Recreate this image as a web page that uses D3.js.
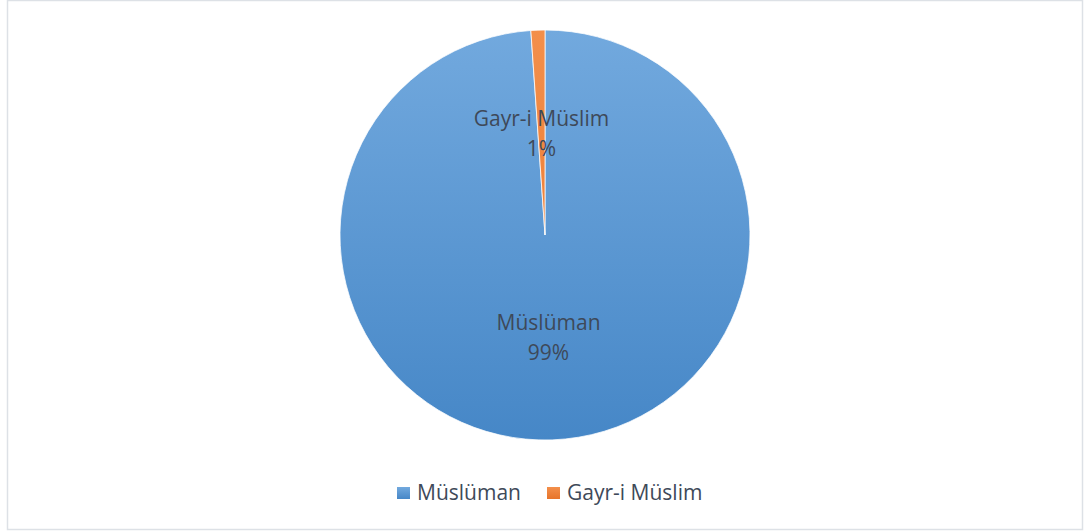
<!DOCTYPE html>
<html><head><meta charset="utf-8">
<script src="https://cdn.jsdelivr.net/npm/d3@7"></script>
<style>body{margin:0;background:#fff;} text{font-family:"Open Sans","Noto Sans",sans-serif;}</style>
</head><body>
<svg id="c" width="1091" height="531"></svg>
<script>
const categories = ["Müslüman", "Gayr-i Müslim"];
const values = [98.9, 1.1];
const pctLabels = ["99%", "1%"];
const colorsTop = ["#72a9de", "#f38f4b"];
const colorsBottom = ["#4687c7", "#e7742a"];

const svg = d3.select("#c");
svg.append("rect").attr("x",7.5).attr("y",0.5).attr("width",1075).attr("height",529)
  .attr("fill","#fff").attr("stroke","#dde1e6").attr("stroke-width",1.5);

const cx = 545, cy = 235, R = 205;
const defs = svg.append("defs");
categories.forEach((c,i)=>{
  const g = defs.append("linearGradient").attr("id","g"+i)
    .attr("gradientUnits","userSpaceOnUse").attr("x1",0).attr("y1",-R).attr("x2",0).attr("y2",R);
  g.append("stop").attr("offset","0").attr("stop-color",colorsTop[i]);
  g.append("stop").attr("offset","1").attr("stop-color",colorsBottom[i]);
  const lg = defs.append("linearGradient").attr("id","lg"+i).attr("x1",0).attr("y1",0).attr("x2",0).attr("y2",1);
  lg.append("stop").attr("offset","0").attr("stop-color",colorsTop[i]);
  lg.append("stop").attr("offset","1").attr("stop-color",colorsBottom[i]);
});

const pie = d3.pie().sort(null).value(d=>d)(values);
const arc = d3.arc().innerRadius(0).outerRadius(R);
const labelArc = d3.arc().innerRadius(R*0.5).outerRadius(R*0.5);
const g = svg.append("g").attr("transform",`translate(${cx},${cy})`);
g.selectAll("path").data(pie).join("path")
  .attr("d",arc).attr("fill",(d,i)=>`url(#g${i})`)
  .attr("stroke","#fff").attr("stroke-width",0.75);

const fs = 21;
const txtCol = "#3e4959";
const lbl = g.selectAll("g.lbl").data(pie).join("g").attr("class","lbl")
  .attr("transform",d=>{const p=labelArc.centroid(d);return `translate(${p[0]},${p[1]})`;});
lbl.append("text").attr("text-anchor","middle").attr("y",-7)
  .attr("font-size",fs).attr("fill",txtCol).text((d,i)=>categories[i]);
lbl.append("text").attr("text-anchor","middle").attr("y",23)
  .attr("font-size",fs).attr("fill",txtCol).text((d,i)=>pctLabels[i]);

// legend
const legX = [397, 547];
const leg = svg.selectAll("g.leg").data(categories).join("g").attr("class","leg")
  .attr("transform",(d,i)=>`translate(${legX[i]},487)`);
leg.append("rect").attr("width",13).attr("height",12).attr("y",0)
  .attr("fill",(d,i)=>`url(#lg${i})`);
leg.append("text").attr("x",20).attr("y",13).attr("font-size",fs).attr("fill",txtCol).text(d=>d);
</script>
</body></html>
